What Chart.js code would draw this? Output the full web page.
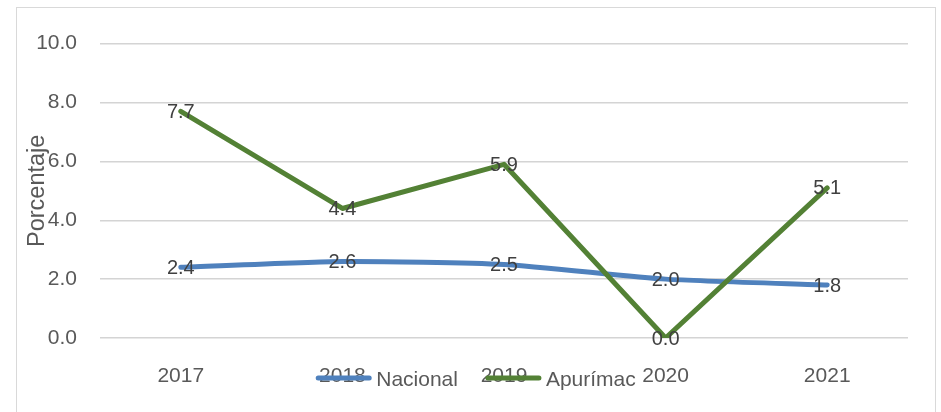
<!DOCTYPE html>
<html>
<head>
<meta charset="utf-8">
<script src="https://cdn.jsdelivr.net/npm/chart.js@4/dist/chart.umd.min.js"></script>
<style>
  html, body { margin: 0; padding: 0; background: #fff; overflow: hidden; }
  #box { position: absolute; left: 16px; top: 7px; width: 918px; height: 410px; border: 1px solid #d9d9d9; }
</style>
</head>
<body>
<div id="box"><canvas id="LineChart" width="918" height="410"></canvas></div>
<script>
const years = ['2017', '2018', '2019', '2020', '2021'];
const nacional = [2.4, 2.6, 2.5, 2.0, 1.8];
const apurimac = [7.7, 4.4, 5.9, 0.0, 5.1];
const yTicks = [0, 2, 4, 6, 8, 10];

const FONT = "'Liberation Sans', Arial, sans-serif";

// etiquetas de datos centradas en cada punto
const valueLabels = {
  id: 'valueLabels',
  afterDatasetsDraw(chart) {
    const ctx = chart.ctx;
    ctx.save();
    ctx.font = '20px ' + FONT;
    ctx.fillStyle = '#404040';
    ctx.textAlign = 'center';
    ctx.textBaseline = 'middle';
    chart.data.datasets.forEach((ds, i) => {
      chart.getDatasetMeta(i).data.forEach((pt, j) => {
        ctx.fillText(ds.data[j].toFixed(1), pt.x, pt.y + 1);
      });
    });
    ctx.restore();
  }
};

// leyenda abajo, encima de las etiquetas del eje x como en el original
const bottomLegend = {
  id: 'bottomLegend',
  afterDraw(chart) {
    const ctx = chart.ctx;
    ctx.save();
    ctx.font = '21px ' + FONT;
    const sample = 55, gap = 5, between = 28;
    const items = chart.data.datasets.map(ds => ({ ds, w: ctx.measureText(ds.label).width }));
    const total = items.reduce((s, it) => s + sample + gap + it.w, 0) + between * (items.length - 1);
    let x = chart.width / 2 - total / 2;
    const y = 370;
    items.forEach(it => {
      ctx.strokeStyle = it.ds.borderColor;
      ctx.lineWidth = 5;
      ctx.lineCap = 'round';
      ctx.beginPath();
      ctx.moveTo(x + 2, y);
      ctx.lineTo(x + sample - 2, y);
      ctx.stroke();
      ctx.fillStyle = '#595959';
      ctx.textBaseline = 'middle';
      ctx.textAlign = 'left';
      ctx.fillText(it.ds.label, x + sample + gap, y + 2);
      x += sample + gap + it.w + between;
    });
    ctx.restore();
  }
};

const ctx = document.getElementById('LineChart');
const myChart = new Chart(ctx, {
  type: 'line',
  data: {
    labels: years,
    datasets: [
      {
        label: 'Nacional',
        data: nacional,
        borderColor: '#4f81bd',
        borderWidth: 5,
        borderCapStyle: 'round',
        borderJoinStyle: 'round',
        tension: 0.2,
        pointRadius: 0,
        order: 1
      },
      {
        label: 'Apurímac',
        data: apurimac,
        borderColor: '#538135',
        borderWidth: 5,
        borderCapStyle: 'round',
        borderJoinStyle: 'round',
        tension: 0,
        pointRadius: 0,
        order: 0
      }
    ]
  },
  options: {
    responsive: false,
    animation: false,
    layout: { padding: { top: 35, right: 27, left: 0, bottom: 0 } },
    plugins: {
      legend: { display: false },
      tooltip: { enabled: false }
    },
    scales: {
      x: {
        offset: true,
        grid: { display: false },
        border: { display: false },
        ticks: { color: '#595959', font: { family: FONT, size: 21 }, padding: 18 },
        afterFit(s) { s.height = 80; }
      },
      y: {
        min: 0,
        max: 10,
        afterBuildTicks(s) { s.ticks = yTicks.map(v => ({ value: v })); },
        grid: { color: '#d4d4d4', lineWidth: 1.4, drawTicks: false },
        border: { display: false },
        ticks: {
          color: '#595959',
          font: { family: FONT, size: 21 },
          padding: 23,
          callback: v => v.toFixed(1)
        },
        title: {
          display: true,
          text: 'Porcentaje',
          color: '#595959',
          font: { family: FONT, size: 23.5 },
          padding: { top: 6, bottom: 0 }
        },
        afterFit(s) { s.width = 83; }
      }
    }
  },
  plugins: [valueLabels, bottomLegend]
});
</script>
</body>
</html>
